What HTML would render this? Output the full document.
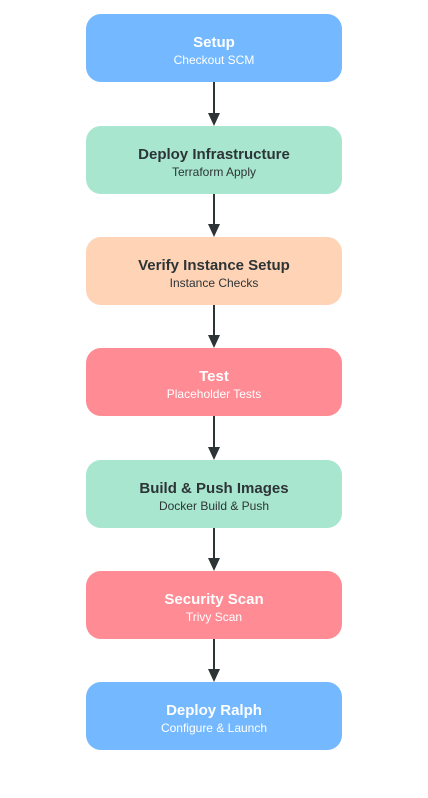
<!DOCTYPE html>
<html><head><style>
body{margin:0;width:428px;height:798px;background:#fff;font-family:"Liberation Sans",sans-serif;position:relative;overflow:hidden}
.b{position:absolute;left:86px;width:256px;height:68px;border-radius:15px;text-align:center;box-sizing:border-box}
.t{font-weight:bold;font-size:15px;margin-top:20px;line-height:18px}
.s{font-size:12px;margin-top:1px;line-height:14px}
.bl{background:#74b9ff;color:#fff}.gr{background:#a8e6cf;color:#2d3436}.pe{background:#ffd3b6;color:#2d3436}.rd{background:#ff8b94;color:#fff}
</style></head><body>
<svg width="428" height="798" style="position:absolute;left:0;top:0">
<g stroke="#2d3436" stroke-width="2" fill="#2d3436">
<line x1="214" y1="82" x2="214" y2="116"/><polygon points="208,113 220,113 214,126" stroke="none"/>
<line x1="214" y1="194" x2="214" y2="227"/><polygon points="208,224 220,224 214,237" stroke="none"/>
<line x1="214" y1="305" x2="214" y2="338"/><polygon points="208,335 220,335 214,348" stroke="none"/>
<line x1="214" y1="416" x2="214" y2="450"/><polygon points="208,447 220,447 214,460" stroke="none"/>
<line x1="214" y1="528" x2="214" y2="561"/><polygon points="208,558 220,558 214,571" stroke="none"/>
<line x1="214" y1="639" x2="214" y2="672"/><polygon points="208,669 220,669 214,682" stroke="none"/>
</g></svg>
<div class="b bl" style="top:14px"><div class="t">Setup</div><div class="s">Checkout SCM</div></div>
<div class="b gr" style="top:126px"><div class="t">Deploy Infrastructure</div><div class="s">Terraform Apply</div></div>
<div class="b pe" style="top:237px"><div class="t">Verify Instance Setup</div><div class="s">Instance Checks</div></div>
<div class="b rd" style="top:348px"><div class="t">Test</div><div class="s">Placeholder Tests</div></div>
<div class="b gr" style="top:460px"><div class="t">Build &amp; Push Images</div><div class="s">Docker Build &amp; Push</div></div>
<div class="b rd" style="top:571px"><div class="t">Security Scan</div><div class="s">Trivy Scan</div></div>
<div class="b bl" style="top:682px"><div class="t">Deploy Ralph</div><div class="s">Configure &amp; Launch</div></div>
</body></html>
